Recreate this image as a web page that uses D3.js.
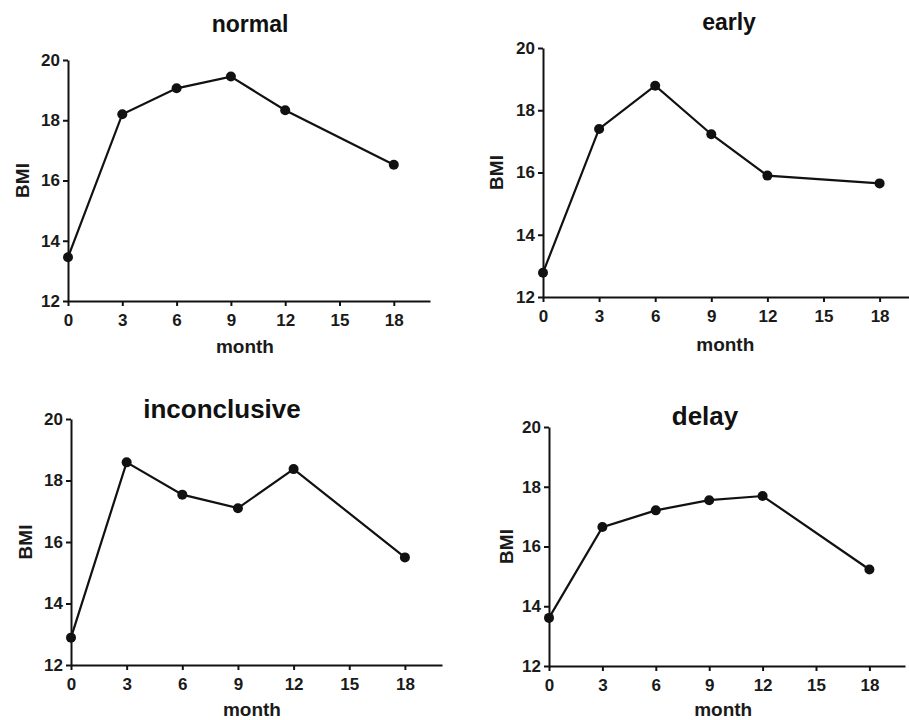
<!DOCTYPE html>
<html>
<head>
<meta charset="utf-8">
<script src="https://cdn.jsdelivr.net/npm/d3@7"></script>
<style>
  body { margin: 0; background: #fff; }
  svg { display: block; font-family: "Liberation Sans", Arial, sans-serif; }
</style>
</head>
<body>
<svg></svg>
<script>
let months = [0, 3, 6, 9, 12, 18]
let xTicks = [0, 3, 6, 9, 12, 15, 18]
let yTicks = [12, 14, 16, 18, 20]

let normalBMI = [13.45, 18.2, 19.06, 19.45, 18.33, 16.52]
let earlyBMI = [12.78, 17.4, 18.79, 17.23, 15.9, 15.65]
let inconclusiveBMI = [12.89, 18.59, 17.54, 17.1, 18.37, 15.5]
let delayBMI = [13.61, 16.65, 17.21, 17.55, 17.69, 15.23]

let w = 909
let h = 720

let svg = d3.select('svg')
    .attr('width', w)
    .attr('height', h)

// layout of each panel: x pixel range for months 0..20, y pixel range for BMI 12..20
let panels = [
    { title: 'normal', values: normalBMI, x: [68, 430], y: [301, 60], titleX: 250, titleY: 32, titleSize: 23, bmiX: 22, monthY: 353 },
    { title: 'early', values: earlyBMI, x: [543, 917], y: [297, 48], titleX: 729, titleY: 30, titleSize: 23, bmiX: 496, monthY: 351 },
    { title: 'inconclusive', values: inconclusiveBMI, x: [71, 442], y: [665, 419], titleX: 222, titleY: 418, titleSize: 26, bmiX: 25, monthY: 716 },
    { title: 'delay', values: delayBMI, x: [549, 905], y: [666, 427], titleX: 705, titleY: 425, titleSize: 26, bmiX: 506, monthY: 716 }
]

let drawPanel = (p) => {
    let g = svg.append('g')

    let xScale = d3.scaleLinear()
                   .domain([0, 20])
                   .range(p.x)
    let yScale = d3.scaleLinear()
                   .domain([12, 20])
                   .range(p.y)

    let xAxis = d3.axisBottom(xScale)
                  .tickValues(xTicks)
                  .tickSize(5)
                  .tickPadding(8)
                  .tickSizeOuter(0)
    g.append('g')
        .attr('transform', 'translate(0,' + p.y[0] + ')')
        .call(xAxis)

    let yAxis = d3.axisLeft(yScale)
                  .tickValues(yTicks)
                  .tickSize(5)
                  .tickPadding(3)
                  .tickSizeOuter(0)
    g.append('g')
        .attr('transform', 'translate(' + p.x[0] + ',0)')
        .call(yAxis)

    g.selectAll('.domain, .tick line')
     .attr('stroke', '#111')
     .attr('stroke-width', 2)
    g.selectAll('.tick text')
     .attr('font-size', 17)
     .attr('font-weight', 'bold')
     .attr('font-family', '"Liberation Sans", Arial, sans-serif')
     .attr('fill', '#1a1a1a')

    let line = d3.line()
                 .x((d, i) => xScale(months[i]))
                 .y((d) => yScale(d))

    g.append('path')
     .datum(p.values)
     .attr('d', line)
     .attr('fill', 'none')
     .attr('stroke', '#111')
     .attr('stroke-width', 2.2)

    g.selectAll('circle')
     .data(p.values)
     .enter()
     .append('circle')
     .attr('cx', (d, i) => xScale(months[i]))
     .attr('cy', (d) => yScale(d))
     .attr('r', 5)
     .attr('fill', '#111')

    g.append('text')
     .attr('x', p.titleX)
     .attr('y', p.titleY)
     .attr('text-anchor', 'middle')
     .attr('font-size', p.titleSize)
     .attr('font-weight', 'bold')
     .attr('fill', '#111')
     .text(p.title)

    g.append('text')
     .attr('x', (p.x[0] + xScale(18)) / 2 + 14)
     .attr('y', p.monthY)
     .attr('text-anchor', 'middle')
     .attr('font-size', 19)
     .attr('font-weight', 'bold')
     .attr('fill', '#1a1a1a')
     .text('month')

    let cy = (p.y[0] + p.y[1]) / 2
    g.append('text')
     .attr('transform', 'translate(' + p.bmiX + ',' + cy + ') rotate(-90)')
     .attr('text-anchor', 'middle')
     .attr('dy', '0.35em')
     .attr('font-size', 19)
     .attr('font-weight', 'bold')
     .attr('fill', '#1a1a1a')
     .text('BMI')
}

panels.forEach(drawPanel)
</script>
</body>
</html>
